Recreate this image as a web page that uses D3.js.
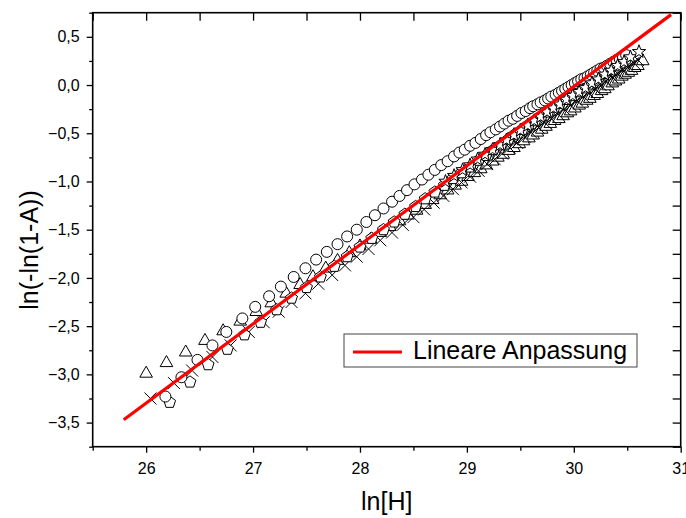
<!DOCTYPE html>
<html>
<head>
<meta charset="utf-8">
<script src="https://cdn.jsdelivr.net/npm/d3@7"></script>
<style>
  body { margin: 0; background: #fff; }
  svg { display: block; font-family: "Liberation Sans", Arial, sans-serif; }
</style>
</head>
<body>
<div class="chart"></div>
<script>
//DATA ************************************************************************
// circles (upper series)
const circX = [26.18, 26.33, 26.48, 26.62, 26.75, 26.90, 27.02, 27.15, 27.26, 27.38,
  27.49, 27.59, 27.69, 27.79, 27.88, 27.97, 28.06, 28.14, 28.22, 28.30,
  28.37, 28.44, 28.51, 28.58, 28.64, 28.70, 28.76, 28.82, 28.88, 28.93,
  28.98, 29.03, 29.08, 29.13, 29.18, 29.22, 29.27, 29.31, 29.35, 29.39,
  29.43, 29.47, 29.51, 29.55, 29.59, 29.62, 29.66, 29.69, 29.73, 29.76,
  29.79, 29.83, 29.86, 29.89, 29.92, 29.95, 29.98, 30.01, 30.04, 30.07,
  30.10, 30.13, 30.16, 30.19, 30.22, 30.25, 30.28, 30.31, 30.34, 30.37,
  30.40, 30.43, 30.46, 30.49];
const circY = [-3.23, -3.03, -2.85, -2.70, -2.56, -2.42, -2.30, -2.19, -2.09, -1.99,
  -1.90, -1.81, -1.73, -1.65, -1.57, -1.50, -1.42, -1.35, -1.28, -1.21,
  -1.15, -1.09, -1.03, -0.98, -0.93, -0.88, -0.83, -0.79, -0.74, -0.70,
  -0.67, -0.63, -0.60, -0.56, -0.52, -0.49, -0.46, -0.43, -0.40, -0.37,
  -0.35, -0.32, -0.29, -0.27, -0.24, -0.22, -0.20, -0.18, -0.16, -0.14,
  -0.12, -0.10, -0.08, -0.06, -0.04, -0.02, 0.00, 0.02, 0.04, 0.06,
  0.07, 0.09, 0.11, 0.13, 0.15, 0.17, 0.18, 0.20, 0.22, 0.24,
  0.26, 0.27, 0.29, 0.31];
// triangles
const triX = [26.00, 26.19, 26.37, 26.55, 26.72, 26.88, 27.03, 27.17, 27.31, 27.44,
  27.56, 27.68, 27.79, 27.90, 28.00, 28.10, 28.19, 28.28, 28.37, 28.45,
  28.53, 28.61, 28.68, 28.75, 28.82, 28.89, 28.95, 29.01, 29.07, 29.13,
  29.18, 29.24, 29.29, 29.34, 29.39, 29.44, 29.49, 29.53, 29.58, 29.62,
  29.66, 29.70, 29.74, 29.78, 29.82, 29.86, 29.90, 29.94, 29.97, 30.01,
  30.05, 30.08, 30.12, 30.15, 30.19, 30.22, 30.26, 30.29, 30.32, 30.36,
  30.39, 30.42, 30.45, 30.48, 30.51, 30.54, 30.57, 30.60, 30.645];
const triY = [-2.99, -2.88, -2.77, -2.65, -2.55, -2.45, -2.35, -2.26, -2.16, -2.07,
  -1.99, -1.90, -1.82, -1.74, -1.67, -1.60, -1.53, -1.47, -1.41, -1.35,
  -1.30, -1.24, -1.19, -1.14, -1.09, -1.04, -1.00, -0.95, -0.91, -0.87,
  -0.83, -0.79, -0.75, -0.72, -0.68, -0.65, -0.61, -0.58, -0.55, -0.52,
  -0.49, -0.46, -0.43, -0.40, -0.37, -0.35, -0.32, -0.29, -0.27, -0.24,
  -0.21, -0.19, -0.16, -0.14, -0.11, -0.09, -0.06, -0.04, -0.01, 0.02,
  0.04, 0.06, 0.09, 0.11, 0.13, 0.15, 0.18, 0.20, 0.25];
// crosses
const crossX = [26.04, 26.26, 26.43, 26.62, 26.79, 26.96, 27.10, 27.24, 27.36, 27.49,
  27.61, 27.74, 27.86, 27.97, 28.08, 28.19, 28.30, 28.40, 28.50, 28.60,
  28.69, 28.78, 28.87, 28.95, 29.03, 29.11, 29.19, 29.26, 29.33, 29.40,
  29.47, 29.54, 29.60, 29.67, 29.73, 29.79, 29.85, 29.91, 29.97, 30.03,
  30.09, 30.14, 30.20, 30.25, 30.30, 30.36, 30.41, 30.46, 30.51, 30.56, 30.60];
const crossY = [-3.25, -3.09, -2.96, -2.82, -2.70, -2.56, -2.46, -2.35, -2.25, -2.16,
  -2.06, -1.97, -1.87, -1.78, -1.70, -1.61, -1.53, -1.45, -1.37, -1.29,
  -1.22, -1.15, -1.08, -1.01, -0.95, -0.89, -0.82, -0.77, -0.71, -0.65,
  -0.60, -0.54, -0.49, -0.44, -0.39, -0.35, -0.30, -0.25, -0.21, -0.16,
  -0.12, -0.08, -0.04, 0.00, 0.04, 0.08, 0.12, 0.16, 0.19, 0.23, 0.26];
// pentagons
const pentX = [26.22, 26.41, 26.58, 26.76, 26.92, 27.07, 27.22, 27.36, 27.50, 27.63,
  27.76, 27.88, 28.00, 28.11, 28.22, 28.32, 28.42, 28.52, 28.61, 28.70,
  28.79, 28.87, 28.95, 29.03, 29.11, 29.18, 29.25, 29.32, 29.39, 29.45,
  29.52, 29.58, 29.64, 29.70, 29.76, 29.82, 29.87, 29.93, 29.98, 30.04,
  30.09, 30.14, 30.19, 30.24, 30.29, 30.34, 30.39, 30.44, 30.49];
const pentY = [-3.29, -3.08, -2.90, -2.74, -2.59, -2.46, -2.33, -2.21, -2.10, -1.99,
  -1.88, -1.78, -1.68, -1.59, -1.50, -1.42, -1.34, -1.26, -1.18, -1.11,
  -1.04, -0.97, -0.91, -0.85, -0.78, -0.73, -0.67, -0.62, -0.56, -0.51,
  -0.46, -0.41, -0.37, -0.32, -0.28, -0.23, -0.19, -0.15, -0.11, -0.07,
  -0.03, 0.01, 0.05, 0.09, 0.12, 0.16, 0.20, 0.23, 0.27];
// stars
const starX = [28.80, 28.88, 28.96, 29.03, 29.10, 29.17, 29.24, 29.31, 29.37, 29.44,
  29.50, 29.57, 29.63, 29.69, 29.75, 29.81, 29.87, 29.93, 29.99, 30.05,
  30.11, 30.17, 30.23, 30.29, 30.35, 30.41, 30.47, 30.53, 30.61];
const starY = [-1.00, -0.94, -0.88, -0.83, -0.77, -0.72, -0.67, -0.62, -0.57, -0.52,
  -0.47, -0.42, -0.37, -0.33, -0.28, -0.24, -0.20, -0.15, -0.11, -0.07,
  -0.03, 0.02, 0.06, 0.11, 0.15, 0.20, 0.24, 0.29, 0.345];
// linear fit
const fitX = [25.79, 30.91];
const fitY = [-3.47, 0.73];

const xMajor = [26, 27, 28, 29, 30, 31];
const xMinor = [25.5, 26.5, 27.5, 28.5, 29.5, 30.5];
const yMajor = [-3.5, -3.0, -2.5, -2.0, -1.5, -1.0, -0.5, 0.0, 0.5];
const yMinor = [-3.75, -3.25, -2.75, -2.25, -1.75, -1.25, -0.75, -0.25, 0.25, 0.75];

const xTitle = "ln[H]";
const yTitle = "ln(-ln(1-A))";
const legendText = "Lineare Anpassung";

//LAYOUT **********************************************************************
const W = 686, H = 518;
const pLeft = 92.7, pRight = 680.7, pTop = 12.7, pBottom = 446.7;

const svg = d3.select(".chart").append("svg")
  .attr("width", W).attr("height", H);

const x = d3.scaleLinear().domain([25.5, 31]).range([pLeft, pRight]);
const y = d3.scaleLinear().domain([-3.75, 0.75]).range([pBottom, pTop]);

const comma = v => d3.format(".1f")(v).replace(".", ",");

//AXES ************************************************************************
function styleAxis(g) {
  g.select(".domain").remove();
  g.selectAll("line").attr("stroke", "#000").attr("stroke-width", 1.3);
  g.selectAll("text").attr("fill", "#000").style("font-size", "16px")
    .style("font-family", '"Liberation Sans", Arial, sans-serif');
}
// bottom
svg.append("g").attr("transform", `translate(0,${pBottom})`)
  .call(d3.axisBottom(x).tickValues(xMajor).tickSize(6).tickPadding(10).tickFormat(d3.format("d")))
  .call(styleAxis);
svg.append("g").attr("transform", `translate(0,${pBottom})`)
  .call(d3.axisBottom(x).tickValues(xMinor).tickSize(4).tickFormat(""))
  .call(styleAxis);
// left
svg.append("g").attr("transform", `translate(${pLeft},0)`)
  .call(d3.axisLeft(y).tickValues(yMajor).tickSize(6).tickPadding(7).tickFormat(comma))
  .call(styleAxis);
svg.append("g").attr("transform", `translate(${pLeft},0)`)
  .call(d3.axisLeft(y).tickValues(yMinor).tickSize(3.5).tickFormat(""))
  .call(styleAxis);
// top + right, ticks pointing inward
svg.append("g").attr("transform", `translate(0,${pTop})`)
  .call(d3.axisTop(x).tickValues(xMajor.concat(xMinor)).tickSize(-8).tickFormat(""))
  .call(styleAxis);
svg.append("g").attr("transform", `translate(${pRight},0)`)
  .call(d3.axisRight(y).tickValues(yMajor.concat(yMinor)).tickSize(-8).tickFormat(""))
  .call(styleAxis);

// frame
svg.append("rect")
  .attr("x", pLeft).attr("y", pTop)
  .attr("width", pRight - pLeft).attr("height", pBottom - pTop)
  .attr("fill", "none").attr("stroke", "#000").attr("stroke-width", 1.6);

//MARKERS *********************************************************************
const circlePath = d3.symbol(d3.symbolCircle, Math.PI * 5.5 * 5.5)();
const trianglePath = "M0,-7.2L6.3,3.8L-6.3,3.8Z";
const crossPath = "M-6,-6L6,6M-6,6L6,-6";
function polyStar(n, r1, r2) {
  const pts = [];
  const k = r2 ? 2 * n : n;
  for (let i = 0; i < k; i++) {
    const r = r2 && i % 2 ? r2 : r1;
    const a = -Math.PI / 2 + i * Math.PI * 2 / k;
    pts.push([r * Math.cos(a), r * Math.sin(a)]);
  }
  return "M" + pts.map(p => p[0].toFixed(2) + "," + p[1].toFixed(2)).join("L") + "Z";
}
const pentagonPath = polyStar(5, 6.2);
const starPath = polyStar(5, 7, 2.9);

function drawSeries(xs, ys, path, fill) {
  const n = Math.min(xs.length, ys.length);
  const pts = d3.range(n).map(i => [xs[i], ys[i]]);
  svg.append("g").selectAll("path").data(pts).enter().append("path")
    .attr("d", path)
    .attr("transform", d => `translate(${x(d[0])},${y(d[1])})`)
    .attr("fill", fill)
    .attr("stroke", "#000")
    .attr("stroke-width", 1);
}
drawSeries(triX, triY, trianglePath, "#fff");
drawSeries(crossX, crossY, crossPath, "none");
drawSeries(pentX, pentY, pentagonPath, "#fff");
drawSeries(circX, circY, circlePath, "#fff");
drawSeries(starX, starY, starPath, "#fff");

// fit line
svg.append("path")
  .datum(fitX.map((v, i) => [v, fitY[i]]))
  .attr("d", d3.line().x(d => x(d[0])).y(d => y(d[1])))
  .attr("fill", "none").attr("stroke", "#ff0000").attr("stroke-width", 3.2);

//LEGEND **********************************************************************
const lg = svg.append("g");
lg.append("rect").attr("x", 344).attr("y", 334).attr("width", 293).attr("height", 33)
  .attr("fill", "#fff").attr("stroke", "#444").attr("stroke-width", 1);
lg.append("line").attr("x1", 353).attr("x2", 402).attr("y1", 352).attr("y2", 352)
  .attr("stroke", "#ff0000").attr("stroke-width", 3.2);
lg.append("text").attr("x", 413).attr("y", 359).style("font-size", "25px")
  .text(legendText);

//TITLES **********************************************************************
svg.append("text").attr("x", (pLeft + pRight) / 2).attr("y", 510)
  .attr("text-anchor", "middle").style("font-size", "25px").text(xTitle);
svg.append("text").attr("transform", "translate(38,250) rotate(-90)")
  .attr("text-anchor", "middle").style("font-size", "25px").text(yTitle);
</script>
</body>
</html>
